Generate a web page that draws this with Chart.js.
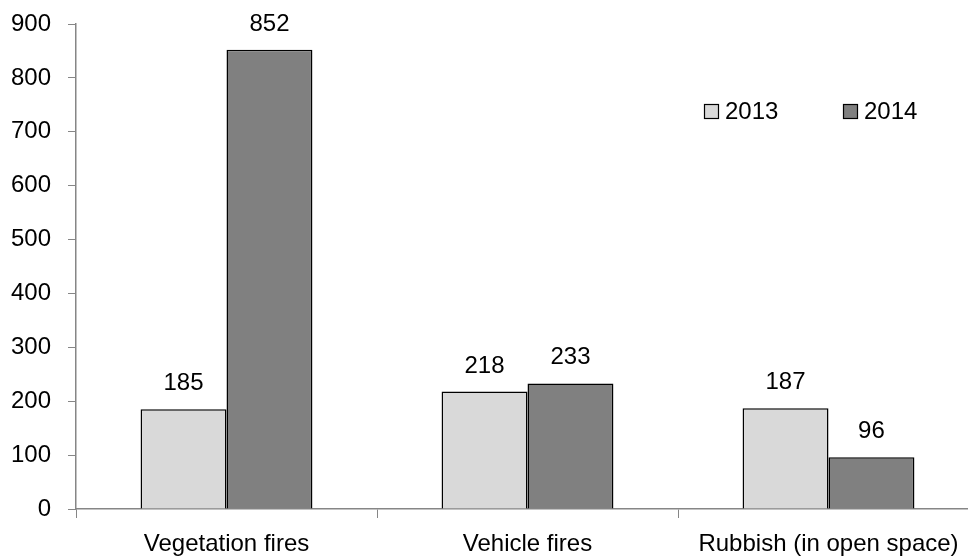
<!DOCTYPE html>
<html>
<head>
    <title>Fires 2013 vs 2014</title>
    <script src="https://cdn.jsdelivr.net/npm/chart.js@4/dist/chart.umd.min.js"></script>
    <style>
        html, body { margin: 0; padding: 0; overflow: hidden; background: white; }
    </style>
</head>
<body>
    <!-- el canvas es un poco más ancho que la ventana, como en la gráfica original -->
    <canvas id="myChart" width="980" height="559" style="display:block;"></canvas>
    <script>
        // Datos
        const categorias = ['Vegetation fires', 'Vehicle fires', 'Rubbish (in open space)'];
        const valores2013 = [185, 218, 187];
        const valores2014 = [852, 233, 96];
        const etiquetasY = [0, 100, 200, 300, 400, 500, 600, 700, 800, 900];

        const fuente = { family: '"Liberation Sans", Arial, sans-serif', size: 24 };
        const grisEje = '#868686';

        // Etiquetas con el valor sobre cada barra
        const etiquetasValor = {
            id: 'etiquetasValor',
            afterDatasetsDraw(chart) {
                const ctx = chart.ctx;
                ctx.save();
                ctx.font = fuente.size + 'px ' + fuente.family;
                ctx.fillStyle = '#000';
                ctx.textAlign = 'center';
                ctx.textBaseline = 'alphabetic';
                chart.data.datasets.forEach((ds, i) => {
                    chart.getDatasetMeta(i).data.forEach((bar, j) => {
                        ctx.fillText(ds.data[j], bar.x, bar.y - 19);
                    });
                });
                ctx.restore();
            }
        };

        // Leyenda dentro del área de la gráfica (arriba a la derecha)
        const leyenda = {
            id: 'leyenda',
            afterDraw(chart) {
                const ctx = chart.ctx;
                const posX = [704, 843];
                const y = 104;
                ctx.save();
                ctx.font = fuente.size + 'px ' + fuente.family;
                ctx.textBaseline = 'middle';
                ctx.textAlign = 'left';
                chart.data.datasets.forEach((ds, i) => {
                    ctx.fillStyle = ds.backgroundColor;
                    ctx.fillRect(posX[i], y, 15, 15);
                    ctx.strokeStyle = '#000';
                    ctx.lineWidth = 1.2;
                    ctx.strokeRect(posX[i] + 0.5, y + 0.5, 14, 14);
                    ctx.fillStyle = '#000';
                    ctx.fillText(ds.label, posX[i] + 21, y + 8);
                });
                ctx.restore();
            }
        };

        const ctx = document.getElementById('myChart').getContext('2d');
        new Chart(ctx, {
            type: 'bar',
            data: {
                labels: categorias,
                datasets: [{
                    label: '2013',
                    data: valores2013,
                    backgroundColor: '#d9d9d9',
                    borderColor: '#000',
                    borderWidth: 1.5
                }, {
                    label: '2014',
                    data: valores2014,
                    backgroundColor: '#808080',
                    borderColor: '#000',
                    borderWidth: 1.5
                }]
            },
            options: {
                responsive: false,
                animation: false,
                layout: { padding: { top: 24, right: 1, left: 0, bottom: 0 } },
                datasets: {
                    bar: { categoryPercentage: 0.571, barPercentage: 1 }
                },
                scales: {
                    x: {
                        grid: { drawOnChartArea: false, drawTicks: true, tickLength: 9, color: grisEje, offset: true },
                        border: { display: true, color: grisEje, width: 1.5 },
                        ticks: { color: '#000', font: fuente, padding: 12, maxRotation: 0 },
                        afterFit(scale) { scale.height = 50; }
                    },
                    y: {
                        min: 0,
                        max: 900,
                        grid: { drawOnChartArea: false, drawTicks: true, tickLength: 8, color: grisEje },
                        border: { display: true, color: grisEje, width: 1.5 },
                        afterBuildTicks(scale) { scale.ticks = etiquetasY.map(v => ({ value: v })); },
                        ticks: { color: '#000', font: fuente, padding: 17 },
                        afterFit(scale) {
                            scale.width = 76;
                            scale.paddingTop = 0;
                            scale.paddingBottom = 0;
                        }
                    }
                },
                plugins: {
                    legend: { display: false },
                    tooltip: { enabled: false }
                }
            },
            plugins: [etiquetasValor, leyenda]
        });
    </script>
</body>
</html>
